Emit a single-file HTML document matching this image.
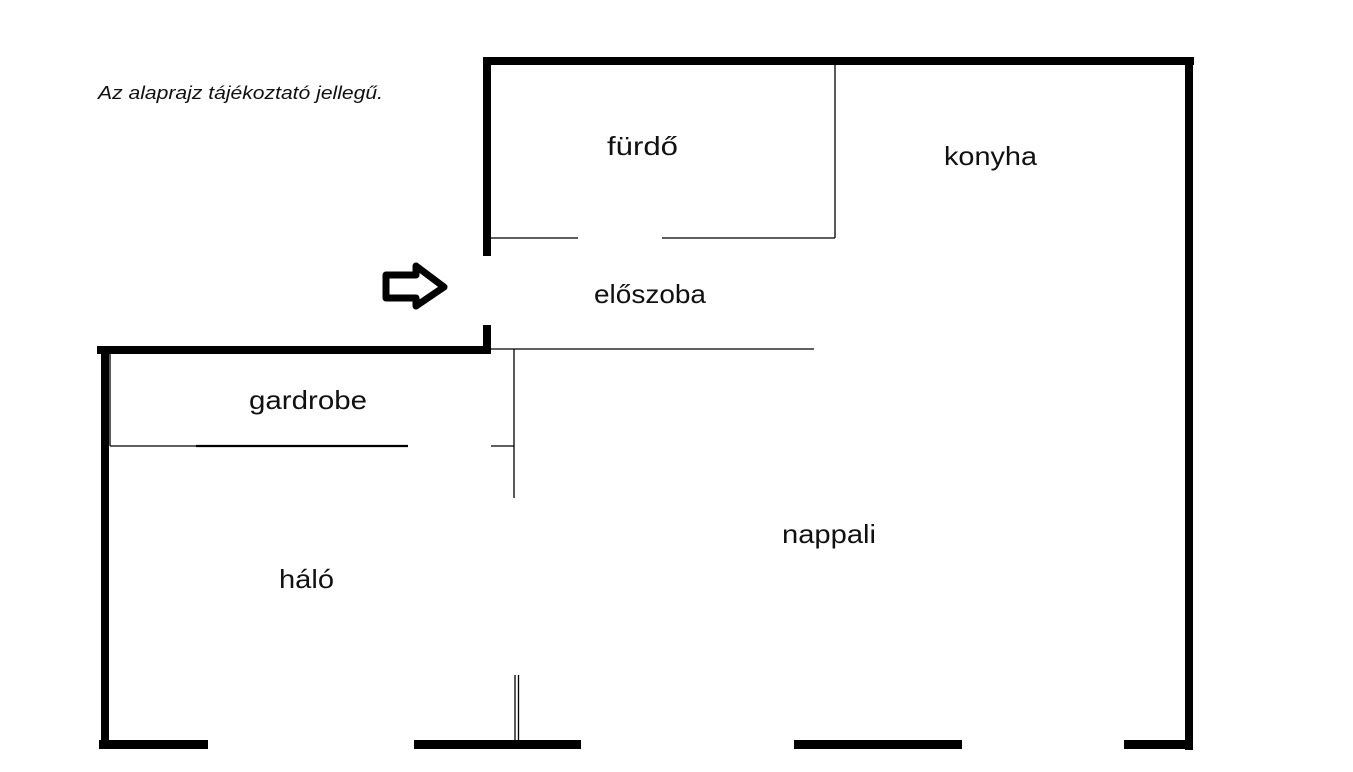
<!DOCTYPE html>
<html><head><meta charset="utf-8"><style>
html,body{margin:0;padding:0;background:#fff;}
svg{display:block}
text{font-family:"Liberation Sans","DejaVu Sans",sans-serif;fill:#111;}
</style></head><body>
<svg width="1353" height="772" viewBox="0 0 1353 772" xmlns="http://www.w3.org/2000/svg">
<rect width="1353" height="772" fill="#fff"/>
<text x="98" y="99" font-size="18" font-style="italic" textLength="285" lengthAdjust="spacingAndGlyphs">Az alaprajz tájékoztató jellegű.</text>
<g fill="#000">
<rect x="483" y="57" width="711" height="8"/>
<rect x="483" y="57" width="8" height="199"/>
<rect x="1185" y="57" width="8" height="693"/>
<rect x="483" y="325" width="8" height="29"/>
<rect x="97" y="346" width="394" height="8"/>
<rect x="101" y="346" width="8" height="403"/>
<rect x="99" y="740" width="109" height="9"/>
<rect x="414" y="740" width="167" height="9"/>
<rect x="794" y="740" width="168" height="9"/>
<rect x="1124" y="740" width="69" height="9"/>
</g>
<g stroke="#000" stroke-width="1.3" fill="none">
<line x1="835" y1="65" x2="835" y2="238"/>
<line x1="491" y1="238" x2="578" y2="238"/>
<line x1="662" y1="238" x2="835" y2="238"/>
<line x1="491" y1="349" x2="814" y2="349"/>
<line x1="514" y1="349" x2="514" y2="498"/>
<line x1="110" y1="354" x2="110" y2="446"/>
<line x1="110" y1="446" x2="196" y2="446"/>
<line x1="491" y1="446" x2="514" y2="446"/>
<line x1="515" y1="675" x2="515" y2="740"/>
<line x1="518.5" y1="675" x2="518.5" y2="740"/>
</g>
<line x1="196" y1="446" x2="408" y2="446" stroke="#000" stroke-width="2.2"/>
<path d="M386,275 L416,275 L416,266 L444,287 L416,306 L416,298 L386,298 Z" fill="none" stroke="#000" stroke-width="7" stroke-linejoin="round"/>
<g font-size="26">
<text x="607" y="155" textLength="71" lengthAdjust="spacingAndGlyphs">fürdő</text>
<text x="944" y="165" textLength="93" lengthAdjust="spacingAndGlyphs">konyha</text>
<text x="594" y="303" textLength="112" lengthAdjust="spacingAndGlyphs">előszoba</text>
<text x="249" y="409" textLength="118" lengthAdjust="spacingAndGlyphs">gardrobe</text>
<text x="782" y="543" textLength="94" lengthAdjust="spacingAndGlyphs">nappali</text>
<text x="279" y="588" textLength="55" lengthAdjust="spacingAndGlyphs">háló</text>
</g>
</svg>
</body></html>
